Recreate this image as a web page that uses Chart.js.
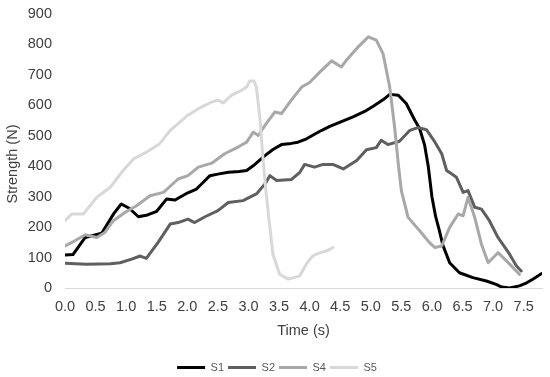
<!DOCTYPE html>
<html><head><meta charset="utf-8">
<script src="https://cdn.jsdelivr.net/npm/chart.js@4.4.1/dist/chart.umd.min.js"></script>
<style>html,body{margin:0;padding:0;background:#fff}</style>
</head><body>
<canvas id="c" width="550" height="377"></canvas>
<script>
const seriesNames = ['S1', 'S2', 'S4', 'S5'];
const seriesColors = ['#000000', '#5f5f5f', '#a8a8a8', '#d8d8d8'];

const s1Time = [0.00,0.13,0.33,0.60,0.80,0.92,1.05,1.20,1.35,1.50,1.66,1.80,2.00,2.15,2.29,2.37,2.50,2.67,2.85,2.97,3.10,3.27,3.40,3.54,3.70,3.81,3.95,4.08,4.20,4.33,4.50,4.71,4.90,5.04,5.20,5.31,5.45,5.58,5.72,5.80,5.88,5.94,6.00,6.06,6.12,6.18,6.29,6.45,6.67,6.89,7.05,7.14,7.27,7.43,7.55,7.65,7.79];
const s1Strength = [108,110,166,180,245,276,262,234,240,252,292,289,312,325,353,369,374,380,383,386,405,435,455,471,475,479,490,505,518,531,545,562,580,597,618,636,633,606,551,523,470,400,300,235,190,140,83,50,34,23,12,3,0,7,17,29,47];

const s2Time = [0.00,0.35,0.74,0.90,1.09,1.23,1.33,1.52,1.72,1.85,2.01,2.12,2.29,2.50,2.67,2.91,3.13,3.27,3.35,3.46,3.70,3.84,3.92,4.08,4.22,4.38,4.55,4.77,4.93,5.09,5.17,5.28,5.47,5.64,5.77,5.91,6.05,6.16,6.24,6.32,6.40,6.51,6.59,6.70,6.81,6.94,7.08,7.27,7.38,7.46];
const s2Strength = [81,78,80,83,95,105,97,149,210,215,226,215,234,254,281,287,309,342,369,353,356,380,406,397,406,406,391,419,454,461,485,471,482,518,527,520,479,441,386,375,364,314,320,265,259,221,166,111,73,56];

const s4Time = [0.00,0.16,0.33,0.52,0.65,0.79,0.98,1.17,1.39,1.61,1.85,2.01,2.18,2.40,2.61,2.83,2.97,3.08,3.16,3.29,3.43,3.54,3.70,3.87,4.00,4.17,4.36,4.52,4.60,4.77,4.96,5.09,5.20,5.31,5.39,5.45,5.50,5.61,5.80,5.96,6.05,6.16,6.29,6.43,6.51,6.59,6.70,6.81,6.92,7.08,7.22,7.43];
const s4Strength = [138,155,175,166,182,221,248,270,303,314,358,369,397,410,441,463,479,512,501,540,578,573,617,660,675,710,746,726,748,787,825,814,770,660,528,408,320,232,188,149,133,138,199,243,237,298,232,144,83,116,89,45];

const s5Time = [0.00,0.11,0.30,0.52,0.74,0.95,1.12,1.33,1.55,1.72,1.88,1.99,2.18,2.40,2.50,2.59,2.72,2.89,2.97,3.02,3.09,3.13,3.19,3.24,3.29,3.35,3.40,3.51,3.65,3.84,3.95,4.05,4.11,4.19,4.28,4.38];
const s5Strength = [221,243,243,298,331,386,424,446,474,518,545,565,589,611,617,608,633,650,660,680,680,660,551,419,309,199,111,45,29,40,80,105,111,117,122,133];

const xTickValues = [0,0.5,1,1.5,2,2.5,3,3.5,4,4.5,5,5.5,6,6.5,7,7.5];
const yTickValues = [0,100,200,300,400,500,600,700,800,900];
const xAxisTitle = 'Time (s)';
const yAxisTitle = 'Strength (N)';

const seriesTimes = [s1Time, s2Time, s4Time, s5Time];
const seriesValues = [s1Strength, s2Strength, s4Strength, s5Strength];

const FONT = '"Liberation Sans", Arial, sans-serif';

const datasets = seriesNames.map((name, i) => ({
  label: name,
  data: seriesTimes[i].map((t, k) => ({ x: t, y: seriesValues[i][k] })),
  borderColor: seriesColors[i],
  backgroundColor: seriesColors[i],
  borderWidth: 3,
  pointRadius: 0,
  tension: 0,
  borderJoinStyle: 'round',
  borderCapStyle: 'round',
  order: seriesNames.length - i
}));

const axisTitles = {
  id: 'axisTitles',
  afterDraw(chart) {
    const ctx = chart.ctx, ca = chart.chartArea;
    ctx.save();
    ctx.fillStyle = '#404040';
    ctx.font = '14.5px ' + FONT;
    ctx.textAlign = 'center';
    ctx.textBaseline = 'middle';
    ctx.fillText(xAxisTitle, (ca.left + ca.right) / 2, 331);
    ctx.translate(13, 164);
    ctx.rotate(-Math.PI / 2);
    ctx.fillText(yAxisTitle, 0, 0);
    ctx.restore();
  }
};

new Chart(document.getElementById('c'), {
  type: 'line',
  data: { datasets },
  plugins: [axisTitles],
  options: {
    responsive: false,
    animation: false,
    events: [],
    layout: { padding: { top: 14, right: 8, bottom: -6, left: 12 } },
    plugins: {
      tooltip: { enabled: false },
      legend: {
        position: 'bottom',
        labels: {
          boxWidth: 28,
          boxHeight: 3,
          padding: 4,
          color: '#595959',
          font: { family: FONT, size: 11 },
          sort: (a, b) => a.datasetIndex - b.datasetIndex,
          generateLabels(chart) {
            return Chart.defaults.plugins.legend.labels.generateLabels(chart).map(it => {
              it.lineWidth = 0;
              it.fillStyle = seriesColors[it.datasetIndex];
              return it;
            });
          }
        }
      }
    },
    scales: {
      x: {
        type: 'linear',
        min: 0,
        max: 7.8,
        afterBuildTicks(scale) { scale.ticks = xTickValues.map(v => ({ value: v })); },
        afterFit(scale) { scale.height = 70; },
        ticks: {
          autoSkip: false,
          maxRotation: 0,
          padding: 10,
          color: '#404040',
          font: { family: FONT, size: 14.5 },
          callback: v => Number(v).toFixed(1)
        },
        grid: { display: false, drawTicks: false },
        border: { display: true, color: '#d9d9d9', width: 1 }
      },
      y: {
        min: 0,
        max: 900,
        afterBuildTicks(scale) { scale.ticks = yTickValues.map(v => ({ value: v })); },
        afterFit(scale) { scale.width = 53; scale.paddingTop = 0; scale.paddingBottom = 0; },
        ticks: {
          padding: 13,
          color: '#404040',
          font: { family: FONT, size: 14.5 }
        },
        grid: { display: false, drawTicks: false },
        border: { display: false }
      }
    }
  }
});
</script>
</body></html>
